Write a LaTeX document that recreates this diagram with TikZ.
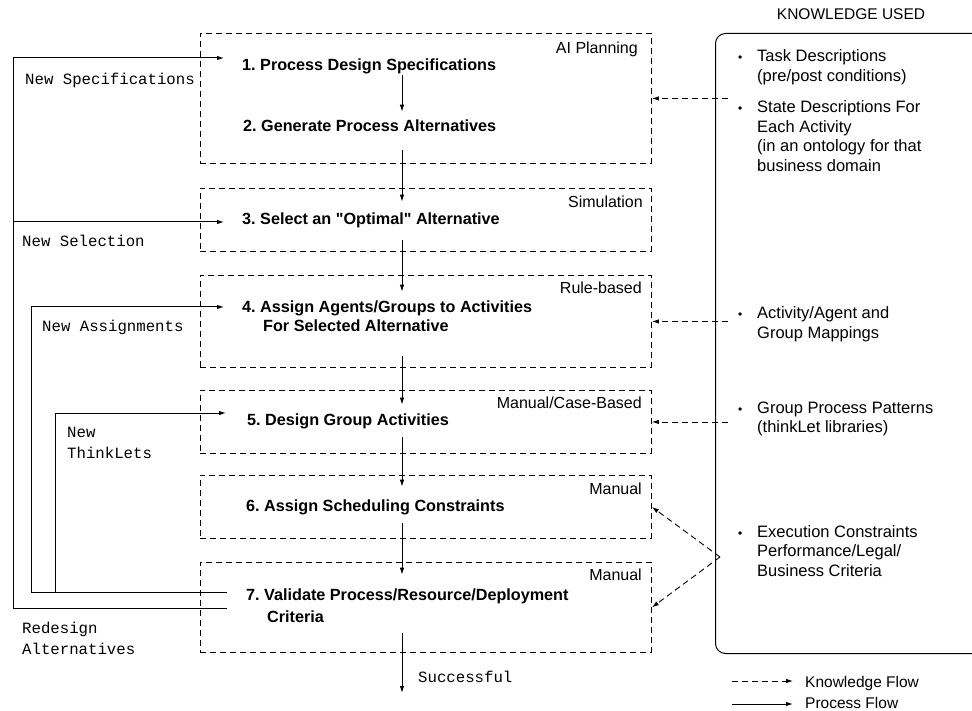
\documentclass[tikz,border=0pt]{standalone}
\usepackage{fontspec}
\setmainfont{Liberation Sans}
\newfontfamily\monofont{Liberation Mono}
\usetikzlibrary{arrows.meta}
\begin{document}
\begin{tikzpicture}[x=1pt,y=-1pt,
  procbox/.style={draw, line width=0.9pt, dash pattern=on 6pt off 4pt, anchor=north west, minimum width=451pt, inner sep=0pt},
  pline/.style={line width=1pt},
  pflow/.style={line width=1pt, -{Latex[length=7pt,width=4.5pt]}},
  kflow/.style={line width=0.9pt, dash pattern=on 6pt off 4pt, -{Latex[length=7pt,width=4.5pt]}},
  steptext/.style={font=\fontsize{16.2pt}{18pt}\selectfont\bfseries\frenchspacing, anchor=base west, inner sep=0pt, text height=11.6pt, text depth=3.4pt},
  method/.style={font=\fontsize{16pt}{18pt}\selectfont, anchor=base east, inner sep=0pt},
  mono/.style={font=\monofont\fontsize{15.7pt}{21pt}\selectfont, anchor=base west, inner sep=0pt},
  know/.style={font=\fontsize{16.5pt}{19.5pt}\selectfont, anchor=base west, align=left, inner sep=0pt},
  bul/.style={font=\fontsize{12pt}{14pt}\selectfont, anchor=base west, inner sep=0pt},
  legend/.style={font=\fontsize{15.5pt}{18pt}\selectfont, anchor=base west, inner sep=0pt}
]
\clip (0,0) rectangle (972,711);
\useasboundingbox (0,0) rectangle (972,711);

% process boxes
\node[procbox, minimum height=130pt] (b1) at (200,33) {};
\node[procbox, minimum height=63pt] (b2) at (200,188) {};
\node[procbox, minimum height=92pt] (b3) at (200,275) {};
\node[procbox, minimum height=63pt] (b4) at (200,390) {};
\node[procbox, minimum height=63pt] (b5) at (200,475) {};
\node[procbox, minimum height=90pt] (b6) at (200,562) {};

% method labels
\node[method] (m1) at (638,54) {AI Planning};
\node[method] (m2) at (643,208) {Simulation};
\node[method] (m3) at (642,294) {Rule-based};
\node[method] (m4) at (642,408) {Manual/Case-Based};
\node[method] (m5) at (642,494) {Manual};
\node[method] (m6) at (642,580) {Manual};

% step texts
\node[steptext] (t1) at (242,70.5) {1. Process Design Specifications};
\node[steptext] (t2) at (243,131.5) {2. Generate Process Alternatives};
\node[steptext] (t3) at (242,224.5) {3. Select an \textquotedbl Optimal\textquotedbl{} Alternative};
\node[steptext] (t4a) at (242,312.5) {4. Assign Agents/Groups to Activities};
\node[steptext] (t4b) at (263,331.5) {For Selected Alternative};
\node[steptext] (t5) at (247,425.5) {5. Design Group Activities};
\node[steptext] (t6) at (246,511.5) {6. Assign Scheduling Constraints};
\node[steptext] (t7a) at (246,600.5) {7. Validate Process/Resource/Deployment};
\node[steptext] (t7b) at (267,622.5) {Criteria};

% main process flow
\coordinate (sp) at (402,0);
\coordinate (succ) at (402,693);
\draw[pflow, shorten <=1pt, shorten >=8pt] (t1.south -| sp) -- (t2.north -| sp);
\draw[pflow, shorten <=15pt, shorten >=11pt] (t2.south -| sp) -- (t3.north -| sp);
\draw[pflow, shorten <=12pt, shorten >=9pt] (t3.south -| sp) -- (t4a.north -| sp);
\draw[pflow, shorten <=21pt, shorten >=9pt] (t4b.south -| sp) -- (t5.north -| sp);
\draw[pflow, shorten <=8pt, shorten >=13pt] (t5.south -| sp) -- (t6.north -| sp);
\draw[pflow, shorten <=8pt, shorten >=14pt] (t6.south -| sp) -- (t7a.north -| sp);
\draw[pflow, shorten <=7pt] (t7b.south -| sp) -- (succ);
\node[mono] (ls) at (418,682) {Successful};

% feedback loops
\coordinate (xo) at (13,0);
\coordinate (xa) at (31,0);
\coordinate (xt) at (55,0);
\coordinate (in1) at (224,58);
\coordinate (in3) at (224,222);
\coordinate (in4) at (224,307);
\coordinate (in5) at (226,413);
\coordinate (o1) at (227,608);
\coordinate (o2) at (227,592);
\draw[pflow] (o1) -| (xo |- in1) -- (in1);
\draw[pflow] (xo |- in3) -- (in3);
\draw[pflow] (o2) -| (xa |- in4) -- (in4);
\draw[pflow] (xt |- o2) -- (xt |- in5) -- (in5);

\node[mono] (l1) at (25,85) {New Specifications};
\node[mono] (l2) at (22,247) {New Selection};
\node[mono] (l3) at (42,332) {New Assignments};
\node[mono] (l4a) at (67,437.5) {New};
\node[mono] (l4b) at (67,458) {ThinkLets};
\node[mono] (l5a) at (22,633.5) {Redesign};
\node[mono] (l5b) at (22,654) {Alternatives};

% knowledge box
\node[legend, anchor=base] (kt) at (851,20) {KNOWLEDGE USED};
\node[draw, line width=1pt, rounded corners=10pt, anchor=north west, minimum width=290pt, minimum height=620pt, inner sep=0pt] (kb) at (715,33) {};

% (multi-line nodes: base anchor = baseline of last line)
\node[bul] (bu1) at (738,62) {•};
\node[know] (k1) at (757,81.5) {Task Descriptions\\(pre/post conditions)};
\node[bul] (bu2) at (738,113) {•};
\node[know] (k2) at (757,171.5) {State Descriptions For\\Each Activity\\(in an ontology for that\\business domain};
\node[bul] (bu3) at (738,318.5) {•};
\node[know] (k3) at (757,338) {Activity/Agent and\\Group Mappings};
\node[bul] (bu4) at (738,413) {•};
\node[know] (k4) at (757,432.5) {Group Process Patterns\\(thinkLet libraries)};
\node[bul] (bu5) at (738,537) {•};
\node[know] (k5) at (757,576) {Execution Constraints\\Performance/Legal/\\Business Criteria};

% knowledge flows
\coordinate (kx) at (728,0);
\coordinate (ke) at (720,557);
\draw[kflow] (b1.east -| kx) -- (b1.east);
\draw[kflow] (b3.east -| kx) -- (b3.east);
\draw[kflow] (b4.east -| kx) -- (b4.east);
\draw[kflow] (ke) -- (b5.east);
\draw[kflow] (ke) -- (b6.east);

% legend
\node[legend] (lkt) at (805,687) {Knowledge Flow};
\node[legend] (lpt) at (805,708) {Process Flow};
\coordinate (lk) at (732,681);
\coordinate (lp) at (732,704);
\draw[kflow, shorten >=12pt] (lk) -- (lk -| lkt.west);
\draw[pflow, shorten >=12pt] (lp) -- (lp -| lpt.west);
\end{tikzpicture}
\end{document}
